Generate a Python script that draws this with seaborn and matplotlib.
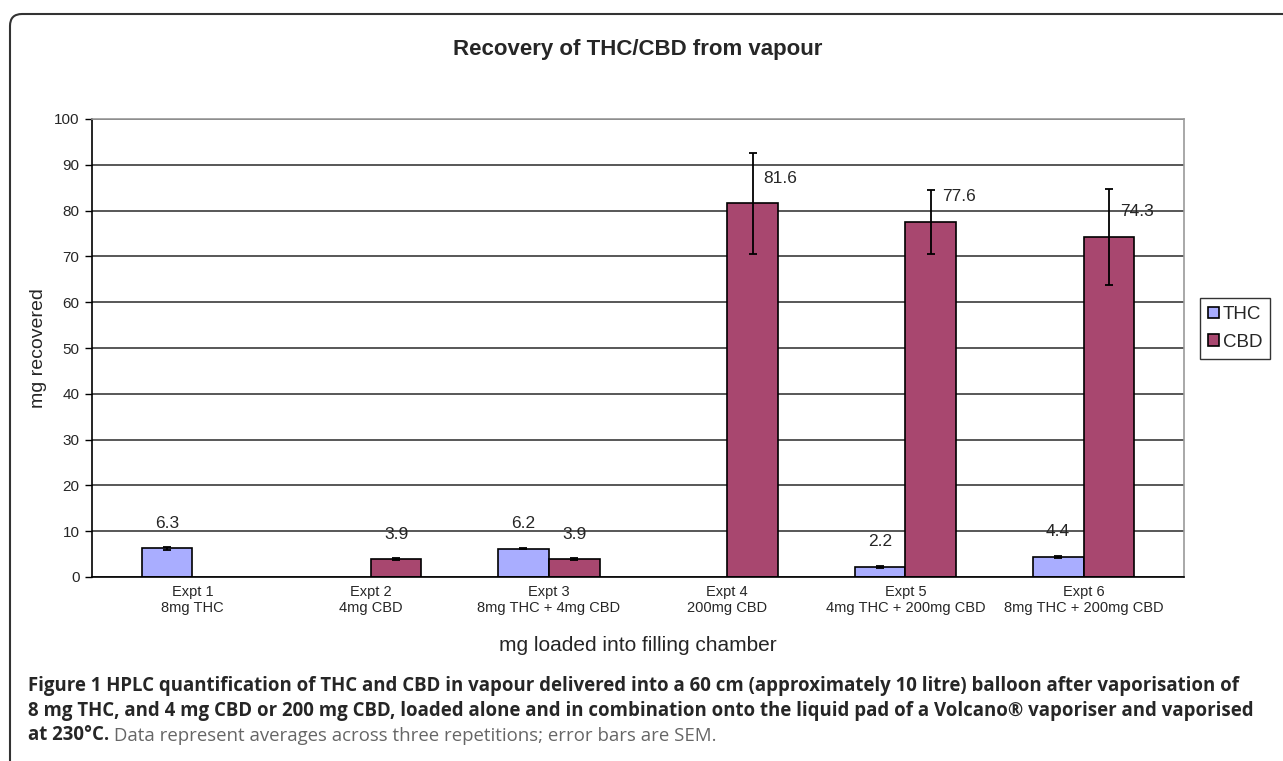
import matplotlib.pyplot as plt
import matplotlib.patches as mpatches
import matplotlib.transforms as mtransforms
import pandas as pd
import numpy as np
import seaborn as sns

# Datos del grafico - chart data
experiments = ['Expt 1\n8mg THC', 'Expt 2\n4mg CBD', 'Expt 3\n8mg THC + 4mg CBD',
               'Expt 4\n200mg CBD', 'Expt 5\n4mg THC + 200mg CBD', 'Expt 6\n8mg THC + 200mg CBD']
thc_mean = [6.3, np.nan, 6.2, np.nan, 2.2, 4.4]
thc_sem = [0.3, np.nan, 0.15, np.nan, 0.2, 0.2]
cbd_mean = [np.nan, 3.9, 3.9, 81.6, 77.6, 74.3]
cbd_sem = [np.nan, 0.15, 0.15, 11.0, 7.0, 10.5]
y_ticks = list(range(0, 101, 10))

caption_1 = ('Figure 1 HPLC quantification of THC and CBD in vapour delivered into a 60 cm '
             '(approximately 10 litre) balloon after vaporisation of')
caption_2 = ('8 mg THC, and 4 mg CBD or 200 mg CBD, loaded alone and in combination onto the '
             'liquid pad of a Volcano\u00ae vaporiser and vaporised')
caption_3_bold = 'at 230\u00b0C.'
caption_3_rest = ' Data represent averages across three repetitions; error bars are SEM.'

df = pd.concat([
    pd.DataFrame({'expt': experiments, 'compound': 'THC', 'mg': thc_mean, 'sem': thc_sem}),
    pd.DataFrame({'expt': experiments, 'compound': 'CBD', 'mg': cbd_mean, 'sem': cbd_sem}),
]).dropna()

sns.set_style('white')
plt.rcParams['font.family'] = ['Liberation Sans', 'DejaVu Sans']

fig = plt.figure(figsize=(12.83, 7.61), dpi=100)
W, H = 1283, 761
ax = fig.add_axes([92 / W, 1 - 577 / H, (1184 - 92) / W, (577 - 119) / H])

colors = {'THC': '#a9adff', 'CBD': '#a8476f'}
sns.barplot(data=df, x='expt', y='mg', hue='compound', order=experiments,
            hue_order=['THC', 'CBD'], palette=colors, saturation=1, width=0.57,
            edgecolor='black', linewidth=1.2, errorbar=None, ax=ax)

# barras de error y etiquetas - error bars and value labels
for container, comp in zip(ax.containers, ['THC', 'CBD']):
    sub = df[df['compound'] == comp]
    for bar, (_, row) in zip(container, sub.iterrows()):
        x = bar.get_x() + bar.get_width() / 2
        ax.errorbar(x, row['mg'], yerr=row['sem'], fmt='none', ecolor='black',
                    elinewidth=1.3, capsize=2.6, capthick=1.3, zorder=4)
        dx = 20 if row['sem'] > 2 else 0
        ax.annotate(f"{row['mg']:.1f}", (x, row['mg']), xytext=(dx, 18),
                    textcoords='offset points', ha='center', va='center', fontsize=12.5)

ax.set_ylim(0, 100)
ax.set_yticks(y_ticks)
ax.yaxis.grid(True, color='#2a2a2a', linewidth=1.1)
ax.set_axisbelow(True)
ax.tick_params(axis='y', direction='out', length=5, width=1, color='black',
               labelsize=11, pad=4, left=True)
ax.tick_params(axis='x', length=0, labelsize=10.5, pad=6)
for lab in ax.get_xticklabels():
    lab.set_linespacing(1.15)
for side in ['left', 'bottom']:
    ax.spines[side].set_color('black')
    ax.spines[side].set_linewidth(1.2)
for side in ['top', 'right']:
    ax.spines[side].set_color('#999999')
    ax.spines[side].set_linewidth(1.2)

ax.set_ylabel('mg recovered', fontsize=14, labelpad=5)
ax.set_xlabel('mg loaded into filling chamber', fontsize=15, labelpad=15)
fig.text(638 / W, 1 - 50 / H, 'Recovery of THC/CBD from vapour', fontsize=16,
         fontweight='bold', ha='center', va='center')

# leyenda - legend
ax.get_legend().remove()
handles = [mpatches.Patch(facecolor=colors[c], edgecolor='black', linewidth=1.2) for c in ['THC', 'CBD']]
leg = fig.legend(handles, ['THC', 'CBD'], loc='upper left',
                 bbox_to_anchor=(1200 / W, 1 - 298 / H), fontsize=13.5, frameon=True,
                 fancybox=False, edgecolor='black', handlelength=0.55, handleheight=0.55,
                 handletextpad=0.2, borderpad=0.45, labelspacing=0.55, borderaxespad=0)
leg.get_frame().set_linewidth(1.0)

# marco redondeado - rounded frame
box = mpatches.FancyBboxPatch((10, -60), 1400, H - 14 + 60,
                              boxstyle='round,pad=0,rounding_size=12',
                              transform=mtransforms.IdentityTransform(),
                              fill=False, edgecolor='#333333', linewidth=1.5)
fig.add_artist(box)

# pie de figura - caption
cap_font = dict(family='Open Sans', fontsize=13.4)
fig.text(28 / W, 1 - 686 / H, caption_1, fontweight='bold', va='center', **cap_font)
fig.text(28 / W, 1 - 711 / H, caption_2, fontweight='bold', va='center', **cap_font)
t3 = fig.text(28 / W, 1 - 735 / H, caption_3_bold, fontweight='bold', va='center', **cap_font)
ax.annotate(caption_3_rest, xy=(1, 0), xycoords=t3, va='bottom', ha='left',
            color='#666666', annotation_clip=False, **cap_font)

fig.savefig('out.png', dpi=100)
